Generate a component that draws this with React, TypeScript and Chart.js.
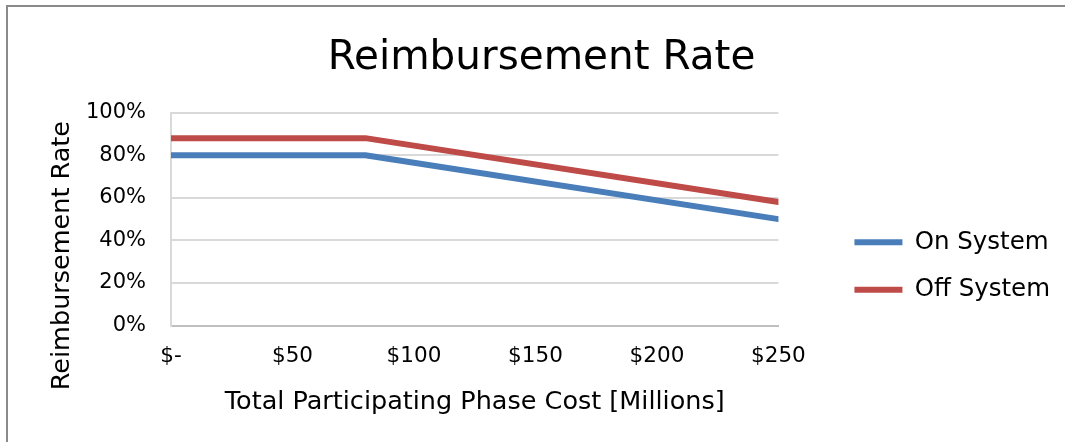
import React, { useEffect, useRef } from 'react';
import { Chart, registerables } from 'chart.js';

Chart.register(...registerables);

// ---- data ----
const costs = [0, 80, 250]; // Total participating phase cost, $ millions
const onSystem = [80, 80, 50]; // %
const offSystem = [88, 88, 58]; // %
const seriesNames = ['On System', 'Off System'];
const seriesColors = ['#4A7EBB', '#BE4B48'];
const xTickValues = [0, 50, 100, 150, 200, 250];
const yTickValues = [0, 20, 40, 60, 80, 100];
const chartTitle = 'Reimbursement Rate';
const xAxisTitle = 'Total Participating Phase Cost [Millions]';
const yAxisTitle = 'Reimbursement Rate';

const FONT = '"DejaVu Sans", sans-serif';

const yTitlePlugin = {
  id: 'yTitlePlugin',
  afterDraw(chart: any) {
    const { ctx, chartArea } = chart;
    ctx.save();
    ctx.translate(chartArea.left - 109, chartArea.bottom - 70);
    ctx.rotate(-Math.PI / 2);
    ctx.font = `25.5px ${FONT}`;
    ctx.fillStyle = '#000000';
    ctx.textAlign = 'center';
    ctx.textBaseline = 'middle';
    ctx.fillText(yAxisTitle, 0, 0);
    ctx.restore();
  },
};

export default function App() {
  const ref = useRef<HTMLCanvasElement | null>(null);

  useEffect(() => {
    if (!ref.current) return;
    const toPoints = (ys: number[]) => costs.map((x, i) => ({ x, y: ys[i] }));
    const chart = new Chart(ref.current, {
      type: 'line',
      data: {
        datasets: [
          {
            label: seriesNames[0],
            data: toPoints(onSystem),
            borderColor: seriesColors[0],
            backgroundColor: seriesColors[0],
            borderWidth: 6,
            borderCapStyle: 'round',
            borderJoinStyle: 'round',
            pointRadius: 0,
            tension: 0,
          },
          {
            label: seriesNames[1],
            data: toPoints(offSystem),
            borderColor: seriesColors[1],
            backgroundColor: seriesColors[1],
            borderWidth: 6,
            borderCapStyle: 'round',
            borderJoinStyle: 'round',
            pointRadius: 0,
            tension: 0,
          },
        ],
      },
      options: {
        responsive: false,
        animation: false,
        layout: { padding: { left: 15, right: 5, top: 0, bottom: 24 } },
        plugins: {
          title: {
            display: true,
            text: chartTitle,
            color: '#000000',
            font: { family: FONT, size: 40.5, weight: 'normal' },
            padding: { top: 27, bottom: 30 },
          },
          legend: {
            display: true,
            position: 'right',
            align: 'start',
            title: {
              display: true,
              text: '',
              font: { family: FONT, size: 10, lineHeight: 1 },
              padding: { top: 190, bottom: 0 },
            },
            labels: {
              usePointStyle: true,
              pointStyle: 'line',
              pointStyleWidth: 48,
              padding: 23,
              color: '#000000',
              font: { family: FONT, size: 24.5 },
            },
          },
          tooltip: { enabled: false },
        },
        scales: {
          x: {
            type: 'linear',
            min: 0,
            max: 250,
            afterBuildTicks: (s: any) => {
              s.ticks = xTickValues.map((v) => ({ value: v }));
            },
            ticks: {
              color: '#000000',
              font: { family: FONT, size: 21.5 },
              padding: 18,
              maxRotation: 0,
              callback: (v: any) => (Number(v) === 0 ? '$-' : '$' + v),
            },
            grid: { display: false, drawTicks: false },
            border: { display: true, color: '#BFBFBF', width: 2 },
            title: {
              display: true,
              text: xAxisTitle,
              color: '#000000',
              font: { family: FONT, size: 25.5 },
              padding: { top: 0, bottom: 0 },
            },
          },
          y: {
            type: 'linear',
            min: 0,
            max: 100,
            afterBuildTicks: (s: any) => {
              s.ticks = yTickValues.map((v) => ({ value: v }));
            },
            afterFit: (s: any) => {
              s.width = 148;
            },
            ticks: {
              color: '#000000',
              font: { family: FONT, size: 21 },
              padding: 25,
              callback: (v: any) => v + '%',
            },
            grid: { color: '#D9D9D9', lineWidth: 2, drawTicks: false },
            border: { display: true, color: '#D9D9D9', width: 2 },
          },
          pad: {
            type: 'linear',
            position: 'right',
            display: false,
            afterFit: (s: any) => {
              s.width = 53;
            },
          },
        },
      } as any,
      plugins: [yTitlePlugin],
    });
    return () => chart.destroy();
  }, []);

  return (
    <div
      style={{
        position: 'fixed',
        left: 6,
        top: 5,
        width: 1057,
        height: 435,
        borderLeft: '2px solid #8A8A8A',
        borderTop: '2px solid #8A8A8A',
        background: '#ffffff',
      }}
    >
      <canvas ref={ref} width={1057} height={435} style={{ display: 'block' }} />
    </div>
  );
}
